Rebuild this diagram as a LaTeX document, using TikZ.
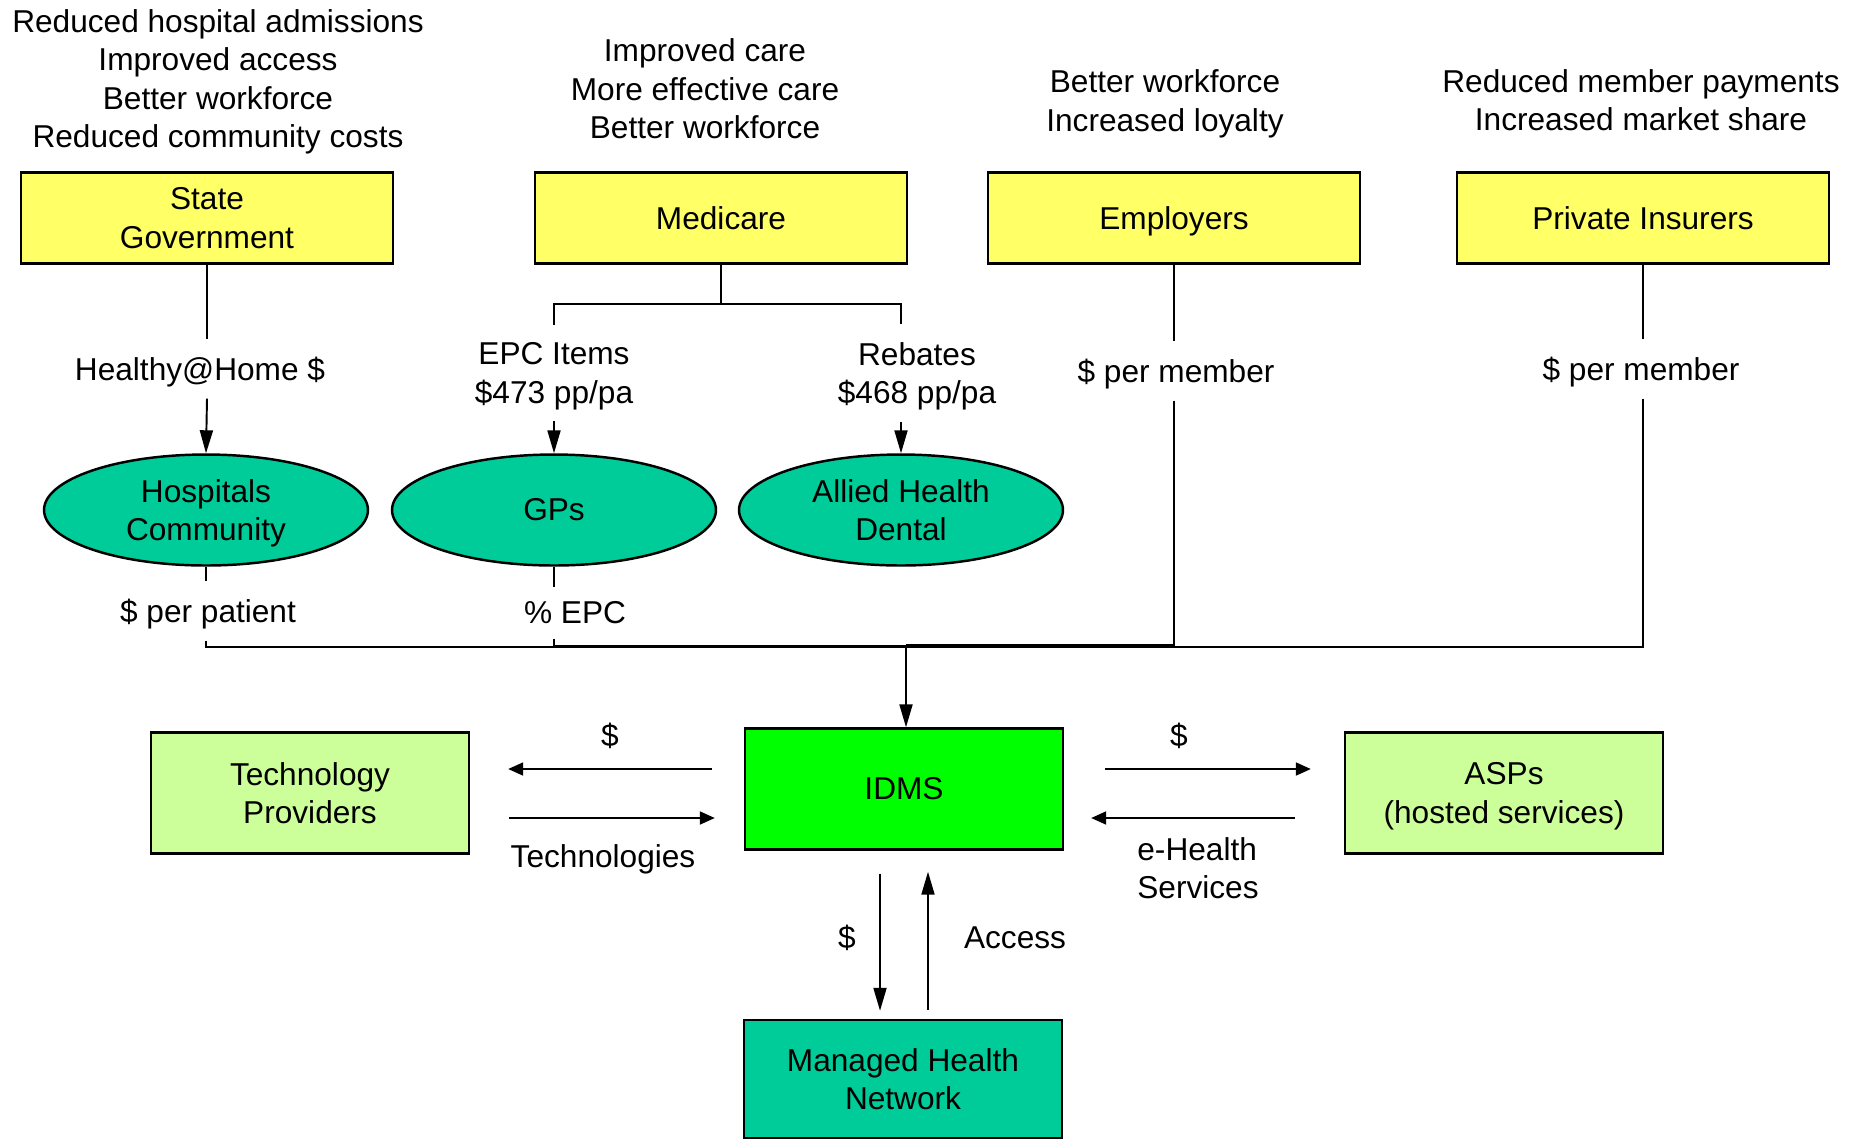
\documentclass[tikz,border=0pt]{standalone}
\usepackage{amsmath}
\usepackage{fontspec}
\setmainfont{Liberation Sans}
\usetikzlibrary{arrows.meta,shapes.geometric,calc}

\definecolor{payer}{HTML}{FFFF66}
\definecolor{provider}{HTML}{00CC99}
\definecolor{hub}{HTML}{00FF00}
\definecolor{vendor}{HTML}{CCFF99}

\begin{document}
\begin{tikzpicture}[x=0.02cm,y=-0.02cm,
  every node/.style={font=\fontsize{18}{21.9}\selectfont, align=center, inner sep=0pt},
  conn/.style={line width=1.1pt},
  flowv/.style={conn,-{Triangle[length=0.46cm,width=0.26cm]}},
  flowh/.style={conn,-{Triangle[length=0.3cm,width=0.26cm]}},
  payerbox/.style={draw, line width=1.4pt, fill=payer, minimum width=7.44cm, minimum height=1.82cm},
  careoval/.style={draw, ellipse, line width=1.4pt, fill=provider, minimum width=6.48cm, minimum height=2.22cm},
  midbox/.style={draw, line width=1.4pt, minimum width=6.36cm, minimum height=2.42cm},
  gaplabel/.style={inner xsep=2pt, inner ysep=0.35cm}]

\useasboundingbox (0,0) rectangle (1861,1140);

% funders
\node[payerbox] (sg)  at (207,218)  {State\\Government};
\node[payerbox] (med) at (721,218)  {Medicare};
\node[payerbox] (emp) at (1174,218) {\smash[b]{Employers}};
\node[payerbox] (ins) at (1643,218) {Private Insurers};

% benefits to each funder
\node (sgben)  at (218,82)  {Reduced hospital admissions\\Improved access\\Better workforce\\Reduced community costs};
\node (medben) at (705,89)  {Improved care\\More effective care\\Better workforce};
\node (empben) at (1165,104) {Better workforce\\Increased loyalty};
\node (insben) at (1641,100) {Reduced member payments\\Increased market share};

% care providers
\node[careoval] (hosp)   at (206,510) {Hospitals\\\smash[b]{Community}};
\node[careoval] (gps)    at (554,510) {GPs};
\node[careoval] (allied) at (901,510) {Allied Health\\Dental};

% flow labels
\node[gaplabel] (hh)   at (200,369)  {\smash[b]{Healthy@Home \$}};
\node[gaplabel] (epc)  at (554,373)  {EPC Items\\\smash[b]{\$473 pp/pa}};
\node[gaplabel] (reb)  at (917,373)  {Rebates\\\smash[b]{\$468 pp/pa}};
\node[gaplabel] (pm1)  at (1176,371) {\smash[b]{\$ per member}};
\node[gaplabel] (pm2)  at (1641,369) {\smash[b]{\$ per member}};
\node[gaplabel] (pp)   at (208,611)  {\smash[b]{\$ per patient}};
\node[gaplabel, inner ysep=0.28cm] (pepc) at (575,613) {\% EPC};

% lower tier
\node[midbox, fill=hub]    (idms) at (904,789)  {IDMS};
\node[midbox, fill=vendor] (tech) at (310,793)  {Technology\\Providers};
\node[midbox, fill=vendor] (asp)  at (1504,793) {ASPs\\\smash[b]{(hosted services)}};
\node[midbox, fill=provider, minimum height=2.36cm] (mhn) at (903,1079) {Managed Health\\Network};

\node (dl)  at (610,736)  {\$};
\node (tl)  at (603,856)  {\smash[b]{Technologies}};
\node (dr)  at (1179,736) {\$};
\node[align=left] (ehs) at (1198,868) {e-Health\\Services};
\node (db)  at (847,938)  {\$};
\node (acc) at (1015,938) {Access};

% state government to hospitals
\draw[conn]  (sg.south) -- (sg.south |- hh.north);
\draw[flowv] (sg.south |- hh.south) -- (hosp.north);

% medicare fork
\coordinate (fork) at (med.south |- 0,304);
\draw[conn] (med.south) -- (fork);
\draw[conn] (gps.north |- epc.north) |- (fork) -| (allied.north |- reb.north);
\draw[flowv] (gps.north |- epc.south) -- (gps.north);
\draw[flowv] (allied.north |- reb.south) -- (allied.north);

% funding bus into IDMS
\coordinate (bus) at (906,647);
\draw[conn] (emp.south) -- (emp.south |- pm1.north);
\draw[conn] (emp.south |- pm1.south) |- ([yshift=0.04cm]bus);
\draw[conn] (ins.south) -- (ins.south |- pm2.north);
\draw[conn] (ins.south |- pm2.south) |- (bus);
\draw[conn] (hosp.south) -- (hosp.south |- pp.north);
\draw[conn] (hosp.south |- pp.south) |- (bus);
\draw[conn] (gps.south) -- (gps.south |- pepc.north);
\draw[conn] (gps.south |- pepc.south) |- ([yshift=0.03cm]bus);
\draw[flowv] (bus) -- (bus |- idms.north);

% exchanges with technology providers
\path ([yshift=0.4cm]idms.west) coordinate (wu) ([yshift=-0.58cm]idms.west) coordinate (wl);
\draw[flowh, shorten <=0.64cm, shorten >=0.76cm] (wu) -- (wu -| tech.east);
\draw[flowh, shorten <=0.78cm, shorten >=0.58cm] (wl -| tech.east) -- (wl);

% exchanges with ASPs
\path ([yshift=0.4cm]idms.east) coordinate (eu) ([yshift=-0.58cm]idms.east) coordinate (elo);
\draw[flowh, shorten <=0.82cm, shorten >=0.66cm] (eu) -- (eu -| asp.west);
\draw[flowh, shorten <=0.98cm, shorten >=0.54cm] (elo -| asp.west) -- (elo);

% exchanges with the managed health network
\path ([xshift=-0.48cm]idms.south) coordinate (sd) ([xshift=0.48cm]idms.south) coordinate (su);
\draw[flowv, shorten <=0.46cm, shorten >=0.16cm] (sd) -- (sd |- mhn.north);
\draw[flowv, shorten <=0.18cm, shorten >=0.42cm] (su |- mhn.north) -- (su);

\end{tikzpicture}
\end{document}
